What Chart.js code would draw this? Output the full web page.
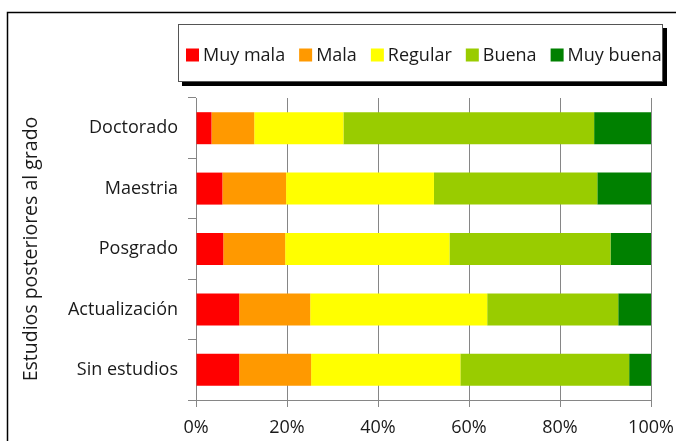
<!DOCTYPE html>
<html>
<head>
<meta charset="utf-8">
<script src="https://cdn.jsdelivr.net/npm/chart.js@4/dist/chart.umd.min.js"></script>
<style>
  html, body { margin: 0; padding: 0; background: #fff; }
</style>
</head>
<body>
<canvas id="c" width="676" height="441"></canvas>
<script>
// --- data (percent of each row) ---
var categories = ['Doctorado', 'Maestria', 'Posgrado', 'Actualización', 'Sin estudios'];
var seriesNames = ['Muy mala', 'Mala', 'Regular', 'Buena', 'Muy buena'];
var muyMala  = [3.4, 5.8, 6.0, 9.5, 9.5];
var mala     = [9.4, 14.0, 13.6, 15.6, 15.8];
var regular  = [19.6, 32.5, 36.1, 38.9, 32.8];
var buena    = [55.1, 35.9, 35.4, 28.8, 37.1];
var muyBuena = [12.5, 11.8, 8.9, 7.2, 4.8];
var xTicks = [0, 20, 40, 60, 80, 100];

var colors = ['#ff0000', '#ff9900', '#ffff00', '#99cc00', '#008000'];
var FONT = '"Open Sans", sans-serif';
var GRID = '#868686';

var seriesValues = [muyMala, mala, regular, buena, muyBuena];
var datasets = seriesNames.map(function(name, i) {
  return {
    label: name,
    data: seriesValues[i],
    backgroundColor: colors[i],
    borderWidth: 0,
    categoryPercentage: 1,
    barPercentage: 0.53
  };
});

// frame round the whole chart + legend box with shadow
var decor = {
  id: 'decor',
  afterDraw: function(chart) {
    var ctx = chart.ctx;
    ctx.save();
    ctx.strokeStyle = '#000';
    ctx.lineWidth = 1.5;
    ctx.strokeRect(7.5, 12.5, 720, 500);

    var bx = 178, by = 24, bw = 484, bh = 57;
    ctx.fillStyle = '#000';
    ctx.fillRect(bx + 4, by + 4, bw + 1, bh + 1);
    ctx.fillStyle = '#fff';
    ctx.fillRect(bx, by, bw, bh);
    ctx.strokeStyle = '#555';
    ctx.lineWidth = 1;
    ctx.strokeRect(bx + 0.5, by + 0.5, bw, bh);

    ctx.save();
    ctx.beginPath();
    ctx.rect(bx + 1, by + 1, bw - 1, bh - 1);
    ctx.clip();
    ctx.font = '18px ' + FONT;
    ctx.textBaseline = 'middle';
    var x = 186, cy = 55;
    chart.data.datasets.forEach(function(ds) {
      ctx.fillStyle = ds.backgroundColor;
      ctx.fillRect(x, cy - 6.5, 13, 13);
      x += 17;
      ctx.fillStyle = '#1a1a1a';
      ctx.fillText(ds.label, x, cy + 1);
      x += ctx.measureText(ds.label).width + 14;
    });
    ctx.restore();
    ctx.restore();
  }
};

new Chart(document.getElementById('c'), {
  type: 'bar',
  data: { labels: categories, datasets: datasets },
  options: {
    indexAxis: 'y',
    responsive: false,
    animation: false,
    layout: { padding: { left: 12, right: 25, top: 98, bottom: 0 } },
    plugins: { legend: { display: false }, tooltip: { enabled: false } },
    scales: {
      x: {
        stacked: true,
        min: 0,
        max: 100,
        afterBuildTicks: function(scale) {
          scale.ticks = xTicks.map(function(v) { return { value: v }; });
        },
        afterFit: function(scale) {
          scale.height = 41;
          scale.paddingLeft = 0;
          scale.paddingRight = 0;
        },
        grid: { color: GRID, lineWidth: 1, tickLength: 7, drawTicks: true },
        border: { display: true, color: GRID, width: 1 },
        ticks: {
          color: '#1a1a1a',
          font: { family: FONT, size: 18 },
          padding: 10,
          callback: function(v) { return v + '%'; }
        }
      },
      y: {
        stacked: true,
        afterFit: function(scale) { scale.width = 196 - 12; },
        grid: { drawOnChartArea: false, color: GRID, tickLength: 8, offset: true },
        border: { display: true, color: GRID, width: 1 },
        ticks: {
          color: '#1a1a1a',
          font: { family: FONT, size: 18 },
          padding: 10
        },
        title: {
          display: true,
          text: 'Estudios posteriores al grado',
          color: '#1a1a1a',
          font: { family: FONT, size: 19.5 },
          padding: { top: 8, bottom: 0 }
        }
      }
    }
  },
  plugins: [decor]
});
</script>
</body>
</html>
